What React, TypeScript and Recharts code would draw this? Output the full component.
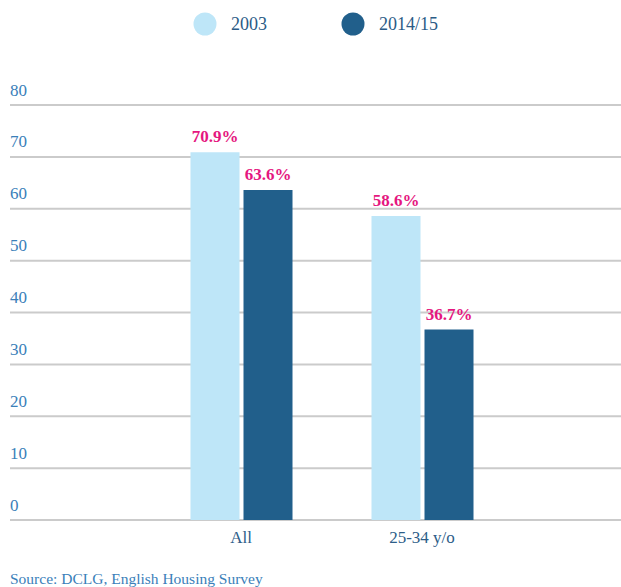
import { Bar, BarChart, CartesianGrid, LabelList, XAxis, YAxis } from "recharts";

const categories = ["All", "25-34 y/o"];
const values2003 = [70.9, 58.6];
const values2015 = [63.6, 36.7];
const seriesNames = ["2003", "2014/15"];
const yTicks = [0, 10, 20, 30, 40, 50, 60, 70, 80];

const LIGHT = "#bee6f8";
const DARK = "#215f8b";
const PINK = "#e5177f";
const FONT = "Liberation Serif, Times New Roman, DejaVu Serif, serif";
const PLOT_LEFT = 10;

const data = categories.map((name, i) => ({
  name,
  a: values2003[i],
  b: values2015[i],
}));

function YTick({ y, payload }: any) {
  return (
    <text x={PLOT_LEFT} y={y - 9.5} fill="#3a80b9" fontSize={17} fontFamily={FONT}>
      {payload.value}
    </text>
  );
}

export default function App() {
  const colors = [LIGHT, DARK];
  return (
    <div
      style={{
        position: "absolute",
        left: 0,
        top: 0,
        width: 621,
        height: 587,
        overflow: "hidden",
        background: "#fff",
        fontFamily: FONT,
      }}
    >
      {/* legend */}
      <div style={{ position: "absolute", left: 193, top: 12, display: "flex" }}>
        {seriesNames.map((s, i) => (
          <div
            key={s}
            style={{ display: "flex", alignItems: "center", width: i === 0 ? 148 : "auto" }}
          >
            <svg width={24} height={24}>
              <circle cx={12} cy={12} r={11.5} fill={colors[i]} />
            </svg>
            <span style={{ marginLeft: 14, fontSize: 18, color: "#2b5b86" }}>{s}</span>
          </div>
        ))}
      </div>

      <BarChart
        width={621}
        height={587}
        data={data}
        margin={{ top: 105, right: 0, bottom: 37, left: PLOT_LEFT - 1 }}
        barGap={4}
        barSize={49}
      >
        <CartesianGrid vertical={false} stroke="#cbcbcb" strokeWidth={2} />
        <XAxis
          dataKey="name"
          axisLine={false}
          tickLine={false}
          padding={{ left: 140.5, right: 108.5 }}
          tickMargin={5}
          tick={{ fill: "#2d5d88", fontSize: 17, fontFamily: FONT }}
        />
        <YAxis
          domain={[0, 80]}
          ticks={yTicks}
          width={1}
          interval={0}
          axisLine={false}
          tickLine={false}
          tick={<YTick />}
        />
        <Bar dataKey="a" fill={LIGHT} isAnimationActive={false}>
          <LabelList
            dataKey="a"
            position="top"
            offset={10}
            formatter={(v: any) => `${v}%`}
            style={{ fill: PINK, fontSize: 17, fontWeight: 700, fontFamily: FONT }}
          />
        </Bar>
        <Bar dataKey="b" fill={DARK} isAnimationActive={false}>
          <LabelList
            dataKey="b"
            position="top"
            offset={10}
            formatter={(v: any) => `${v}%`}
            style={{ fill: PINK, fontSize: 17, fontWeight: 700, fontFamily: FONT }}
          />
        </Bar>
      </BarChart>

      <div
        style={{
          position: "absolute",
          left: 10,
          top: 570,
          fontSize: 15.5,
          color: "#3a80b9",
          whiteSpace: "nowrap",
        }}
      >
        Source: DCLG, English Housing Survey
      </div>
    </div>
  );
}
